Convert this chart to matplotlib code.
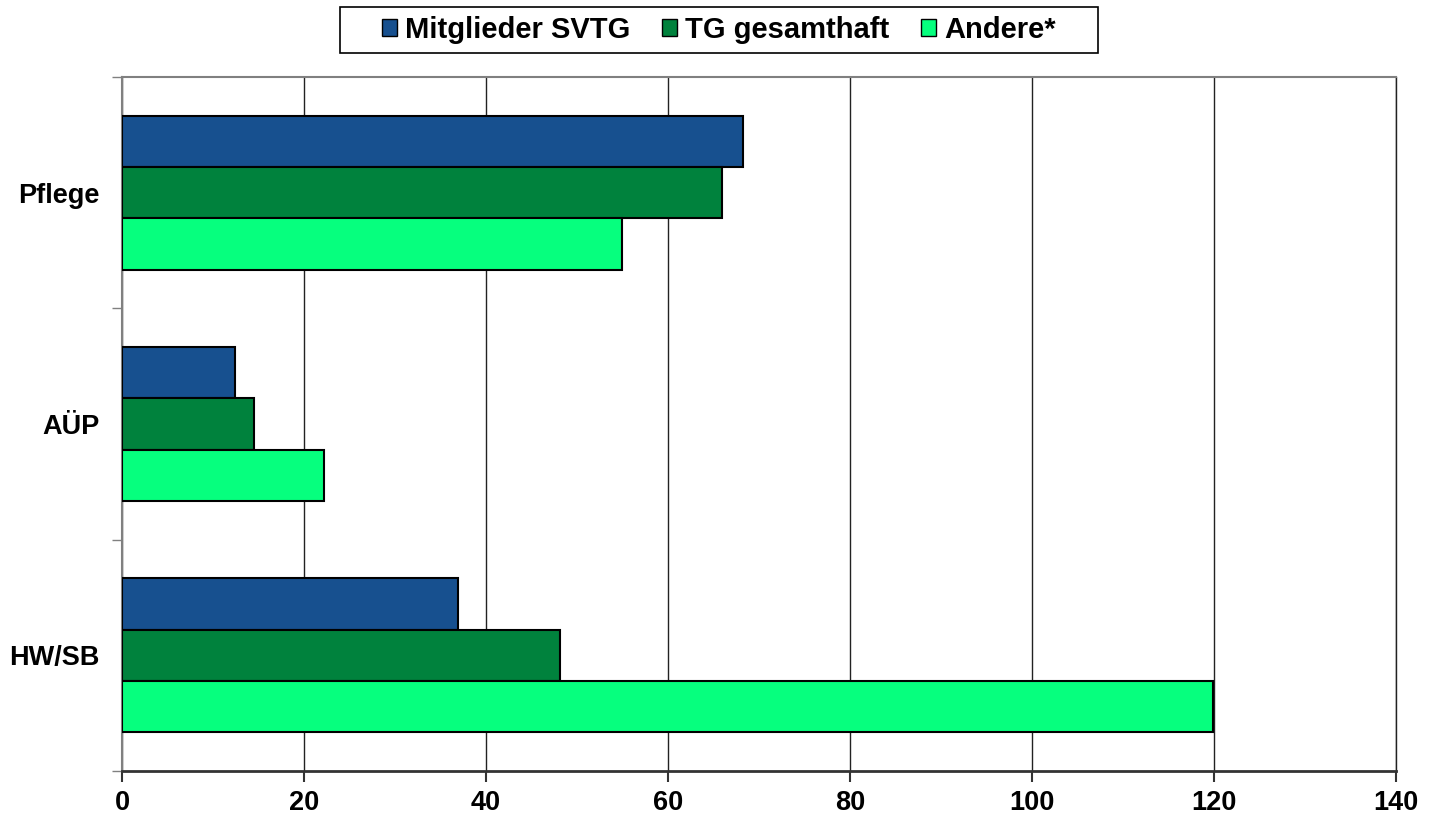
import matplotlib
matplotlib.use("Agg")
import matplotlib.pyplot as plt
from matplotlib.patches import Patch, Rectangle
from matplotlib.ticker import FixedLocator

# ── data (top to bottom as shown) ──
CATEGORIES = ["Pflege", "AÜP", "HW/SB"]
SERIES = ["Mitglieder SVTG", "TG gesamthaft", "Andere*"]
SVTG = [68.2, 12.4, 36.9]
TG_TOTAL = [65.9, 14.5, 48.1]
ANDERE = [54.9, 22.2, 119.9]
X_TICKS = [0, 20, 40, 60, 80, 100, 120, 140]

COLORS = ["#17508F", "#00823D", "#06FF7E"]

plt.rcParams["font.family"] = ["Liberation Sans", "DejaVu Sans"]
plt.rcParams["font.weight"] = "bold"

W, H = 1429, 818
fig = plt.figure(figsize=(W / 100, H / 100), dpi=100)
ax = fig.add_axes([0.0854, 0.0575, 0.8915, 0.8484])

n = len(CATEGORIES)
centers = [n - 1 - i for i in range(n)]
h = 0.222
for k, (vals, col) in enumerate(zip([SVTG, TG_TOTAL, ANDERE], COLORS)):
    offs = (1 - k) * h
    ax.barh([c + offs for c in centers], vals, height=h, color=col,
            edgecolor="black", linewidth=1.5, zorder=3)

ax.set_xlim(0, 140)
ax.set_ylim(-0.5, n - 0.5)
ax.set_xticks(X_TICKS)
ax.set_xticklabels([str(t) for t in X_TICKS], fontsize=19.5, fontweight="bold")
ax.set_yticks(centers)
ax.set_yticklabels(CATEGORIES, fontsize=19.5, fontweight="bold")
ax.yaxis.set_minor_locator(FixedLocator([-0.5 + i for i in range(n + 1)]))

ax.tick_params(axis="y", which="major", length=0, pad=16)
ax.tick_params(axis="y", which="minor", length=7, color="#808080", width=1)
ax.tick_params(axis="x", which="major", length=8, color="#333333", width=1.5, pad=6)

ax.grid(axis="x", color="#222222", linewidth=1, zorder=0)
ax.set_axisbelow(True)

ax.spines["left"].set_color("#808080")
ax.spines["left"].set_linewidth(1.5)
ax.spines["top"].set_color("#808080")
ax.spines["top"].set_linewidth(1.5)
ax.spines["right"].set_color("#222222")
ax.spines["right"].set_linewidth(1)
ax.spines["bottom"].set_color("#333333")
ax.spines["bottom"].set_linewidth(2)

# legend: frameless entries plus a wide box drawn around them
handles = [Patch(facecolor=c, edgecolor="black", linewidth=1) for c in COLORS]
leg = fig.legend(handles, SERIES, loc="center",
                 bbox_to_anchor=(719 / W, 1 - 30 / H),
                 borderaxespad=0, ncol=3, frameon=False,
                 prop={"size": 21, "weight": "bold"}, handlelength=0.5,
                 handleheight=0.5, handletextpad=0.28, columnspacing=1.1,
                 borderpad=0)
fig.patches.append(Rectangle((340 / W, 1 - 53 / H), 758 / W, 46 / H,
                             transform=fig.transFigure, facecolor="none",
                             edgecolor="black", linewidth=1.2))

fig.savefig("out.png", dpi=100)
